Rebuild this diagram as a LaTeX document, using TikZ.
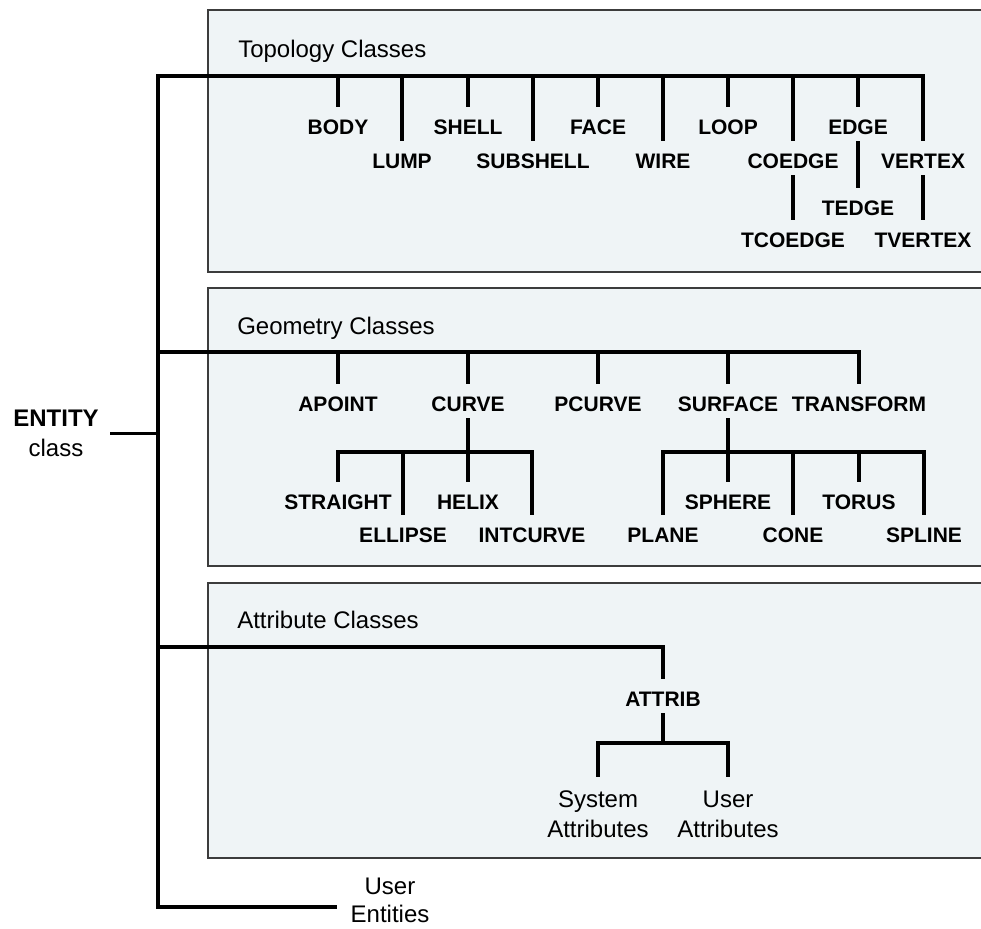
\documentclass[tikz,border=0pt]{standalone}
\usepackage{fontspec}
\setmainfont{Liberation Sans}
\definecolor{panelfill}{RGB}{239,244,246}
\definecolor{panelline}{RGB}{60,60,60}
\begin{document}
\begin{tikzpicture}[x=0.75pt,y=-0.75pt,
  panel/.style={fill=panelfill,draw=panelline,line width=1.1pt},
  conn/.style={line width=2.8pt,black,line join=miter},
  cls/.style={font=\fontsize{15.75}{18}\selectfont\bfseries,text height=11.3pt,text depth=0pt,inner xsep=1pt,inner ysep=9.4pt},
  title/.style={font=\fontsize{18}{22}\selectfont,anchor=base west,inner sep=0pt},
  note/.style={font=\fontsize{18}{22.5}\selectfont,align=center,inner xsep=2pt,inner ysep=10pt}
]
\useasboundingbox[fill=white] (0,0) rectangle (981,928);
\clip (0,0) rectangle (981,928);

% panels
\draw[panel] (208,10) rectangle (1000,272);
\draw[panel] (208,288) rectangle (1000,566);
\draw[panel] (208,583) rectangle (1000,858);

\node[title] (ttopo) at (238,57) {Topology Classes};
\node[title] (tgeom) at (237,334) {Geometry Classes};
\node[title] (tattr) at (237,628) {Attribute Classes};

% topology classes
\node[cls] (body)     at (338,127) {BODY};
\node[cls] (shell)    at (468,127) {SHELL};
\node[cls] (face)     at (598,127) {FACE};
\node[cls] (loop)     at (728,127) {LOOP};
\node[cls] (edge)     at (858,127) {EDGE};
\node[cls] (lump)     at (402,161) {LUMP};
\node[cls] (subshell) at (533,161) {SUBSHELL};
\node[cls] (wire)     at (663,161) {WIRE};
\node[cls] (coedge)   at (793,161) {COEDGE};
\node[cls] (vertex)   at (923,161) {VERTEX};
\node[cls] (tedge)    at (858,208) {TEDGE};
\node[cls] (tcoedge)  at (793,240) {TCOEDGE};
\node[cls] (tvertex)  at (923,240) {TVERTEX};

% geometry classes
\node[cls] (apoint)    at (338,404) {APOINT};
\node[cls] (curve)     at (468,404) {CURVE};
\node[cls] (pcurve)    at (598,404) {PCURVE};
\node[cls] (surface)   at (728,404) {SURFACE};
\node[cls] (transform) at (859,404) {TRANSFORM};
\node[cls] (straight)  at (338,502) {STRAIGHT};
\node[cls] (helix)     at (468,502) {HELIX};
\node[cls] (sphere)    at (728,502) {SPHERE};
\node[cls] (torus)     at (859,502) {TORUS};
\node[cls] (ellipse)   at (403,535) {ELLIPSE};
\node[cls] (intcurve)  at (532,535) {INTCURVE};
\node[cls] (plane)     at (663,535) {PLANE};
\node[cls] (cone)      at (793,535) {CONE};
\node[cls] (spline)    at (924,535) {SPLINE};

% attribute classes
\node[cls] (attrib) at (663,699) {ATTRIB};
\node[note] (sysattr)  at (598,814) {System\\Attributes};
\node[note] (userattr) at (728,814) {User\\Attributes};

% entity and user entities
\node[font=\fontsize{18}{22.5}\selectfont,align=center,inner xsep=8.5pt,inner ysep=2pt] (entity) at (56,433.5) {{\bfseries ENTITY}\\class};
\node[font=\fontsize{18}{21}\selectfont,align=center,inner xsep=10.2pt,inner ysep=2pt] (ue) at (390,900) {User\\Entities};

% trunk
\coordinate (T) at (158,76);
\coordinate (G) at (158,352);
\coordinate (A) at (158,647);
\coordinate (B) at (158,907);
\draw[conn] (vertex.north) |- (T) -- (B) -- (B -| ue.west);
\draw[conn] (entity.east) -- (entity.east -| T);

% topology ticks
\foreach \n in {body,lump,shell,subshell,face,wire,loop,coedge,edge}
  \draw[conn] (\n.north) -- (\n.north |- T);
\draw[conn] ([yshift=4.5pt]coedge.south) -- (tcoedge.north);
\draw[conn] ([yshift=4.5pt]edge.south) -- (tedge.north);
\draw[conn] ([yshift=4.5pt]vertex.south) -- (tvertex.north);

% geometry bus and ticks
\draw[conn] (transform.north) |- (G);
\foreach \n in {apoint,curve,pcurve,surface}
  \draw[conn] (\n.north) -- (\n.north |- G);

% curve subtree
\coordinate (cb) at (468,452);
\draw[conn] (straight.north) -- (straight.north |- cb) -- (intcurve.north |- cb) -- (intcurve.north);
\draw[conn] ([yshift=4.5pt]curve.south) -- (helix.north);
\draw[conn] (ellipse.north) -- (ellipse.north |- cb);

% surface subtree
\coordinate (sb) at (728,452);
\draw[conn] (plane.north) -- (plane.north |- sb) -- (spline.north |- sb) -- (spline.north);
\draw[conn] ([yshift=4.5pt]surface.south) -- (sphere.north);
\draw[conn] (cone.north) -- (cone.north |- sb);
\draw[conn] (torus.north) -- (torus.north |- sb);

% attribute bus and subtree
\draw[conn] (attrib.north) |- (A);
\coordinate (ab) at (663,743);
\draw[conn] ([yshift=4.5pt]attrib.south) -- (attrib.south |- ab);
\draw[conn] (sysattr.north) -- (sysattr.north |- ab) -- (userattr.north |- ab) -- (userattr.north);
\end{tikzpicture}
\end{document}
